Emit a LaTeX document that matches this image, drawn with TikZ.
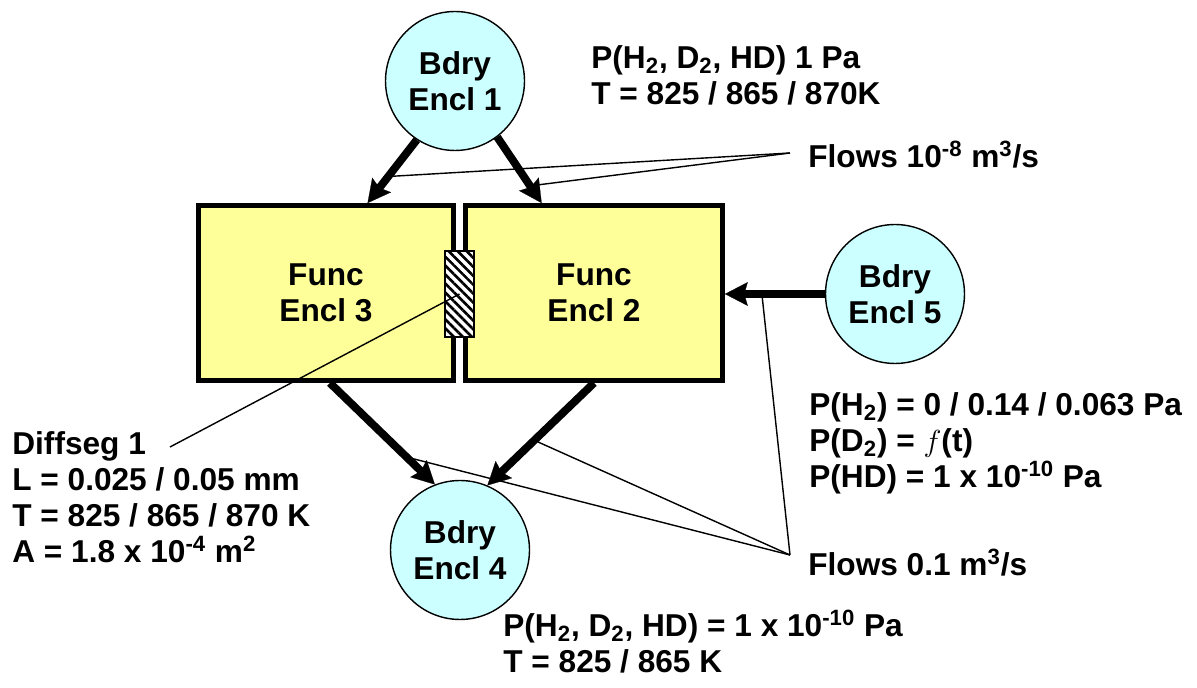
\documentclass[tikz,border=0pt]{standalone}
\usepackage{fontspec}
\setmainfont{Liberation Sans}
\usetikzlibrary{arrows.meta,patterns.meta,calc}
\definecolor{bdryfill}{HTML}{CCFFFF}
\definecolor{funcfill}{HTML}{FFFF99}

\begin{document}
\begin{tikzpicture}[x=0.02cm,y=-0.02cm,
  lbl/.style={font=\fontsize{18pt}{20.5pt}\selectfont\bfseries},
  % multi-line labels are placed by the baseline of their last line
  txt/.style={lbl, inner sep=0pt, align=left, anchor=base west},
  bdry/.style={circle, draw=black, line width=0.8pt, fill=bdryfill,
    minimum size=2.78cm, inner sep=0pt, align=center, lbl},
  func/.style={rectangle, draw=black, line width=2.8pt, fill=funcfill,
    minimum height=3.5cm, inner sep=0pt, align=center, lbl},
  membrane/.style={rectangle, draw=black, line width=0.8pt,
    minimum width=0.58cm, minimum height=1.72cm, inner sep=0pt,
    preaction={fill=white},
    pattern={Lines[angle=-45,distance=3.6pt,line width=1.5pt]}, pattern color=black},
  flow/.style={line width=4.5pt,
    -{Stealth[length=13pt,width=13.5pt,inset=2pt,line width=0.1pt]}},
  lead/.style={line width=0.8pt},
]
\useasboundingbox (0,0) rectangle (1197,688);

% enclosures
\node[func, minimum width=5.1cm]  (f3) at (326,293) {Func\\Encl 3};
\node[func, minimum width=5.14cm] (f2) at (594,293) {Func\\Encl 2};
\node[bdry] (c1) at (455,81)  {Bdry\\Encl 1};
\node[bdry] (c5) at (895,294) {Bdry\\Encl 5};
\node[bdry] (c4) at (460,550) {Bdry\\Encl 4};

% diffusion segment between the two functional enclosures
\node[membrane] (mem) at (459.5,294) {};

% end points of the flow arrows
\coordinate (a1s) at (c1.237);
\coordinate (a1e) at ($(f3.north west)!0.66!(f3.north east)$);
\coordinate (a2s) at (c1.307);
\coordinate (a2e) at ($(f2.north west)!0.30!(f2.north east)$);
\coordinate (a5s) at (c5.west);
\coordinate (a5e) at (c5.west -| f2.east);
\coordinate (a3s) at ($(f3.south west)!0.515!(f3.south east)$);
\coordinate (a3e) at (c4.111);
\coordinate (a4s) at ($(f2.south west)!0.50!(f2.south east)$);
\coordinate (a4e) at (c4.67);

% leader lines to the flow labels
\coordinate (ft) at (790,153);
\coordinate (fb) at (790,555);
\draw[lead] (ft) -- ($(a1s)!0.58!(a1e)$);
\draw[lead] (ft) -- ($(a2s)!0.74!(a2e)$);
\draw[lead] (fb) -- ($(a5s)!0.63!(a5e)$);
\draw[lead] (fb) -- ($(a4s)!0.56!(a4e)$);
\draw[lead] (fb) -- ($(a3s)!0.73!(a3e)$);

% flow arrows
\draw[flow] (a1s) -- (a1e);
\draw[flow] (a2s) -- (a2e);
\draw[flow] (a5s) -- (a5e);
\draw[flow] (a3s) -- (a3e);
\draw[flow] (a4s) -- (a4e);

% leader line to the diffusion segment
\coordinate (ds) at (170,447);
\draw[lead] (ds) -- (mem.center);

% labels
\node[txt] (t1) at (591,105) {P(H\textsubscript{2}, D\textsubscript{2}, HD) 1 Pa\\T = 825 / 865 / 870K};
\node[txt] (t2) at (808,168) {Flows 10\textsuperscript{-8} m\textsuperscript{3}/s};
\node[txt] (t3) at (809,488) {P(H\textsubscript{2}) = 0 / 0.14 / 0.063 Pa\\P(D\textsubscript{2}) = $f$(t)\\P(HD) = 1 x 10\textsuperscript{-10} Pa};
\node[txt] (t4) at (12,563) {Diffseg 1\\L = 0.025 / 0.05 mm\\T = 825 / 865 / 870 K\\A = 1.8 x 10\textsuperscript{-4} m\textsuperscript{2}};
\node[txt] (t5) at (808,576) {Flows 0.1 m\textsuperscript{3}/s};
\node[txt] (t6) at (503,673) {P(H\textsubscript{2}, D\textsubscript{2}, HD) = 1 x 10\textsuperscript{-10} Pa\\T = 825 / 865 K};
\end{tikzpicture}
\end{document}
